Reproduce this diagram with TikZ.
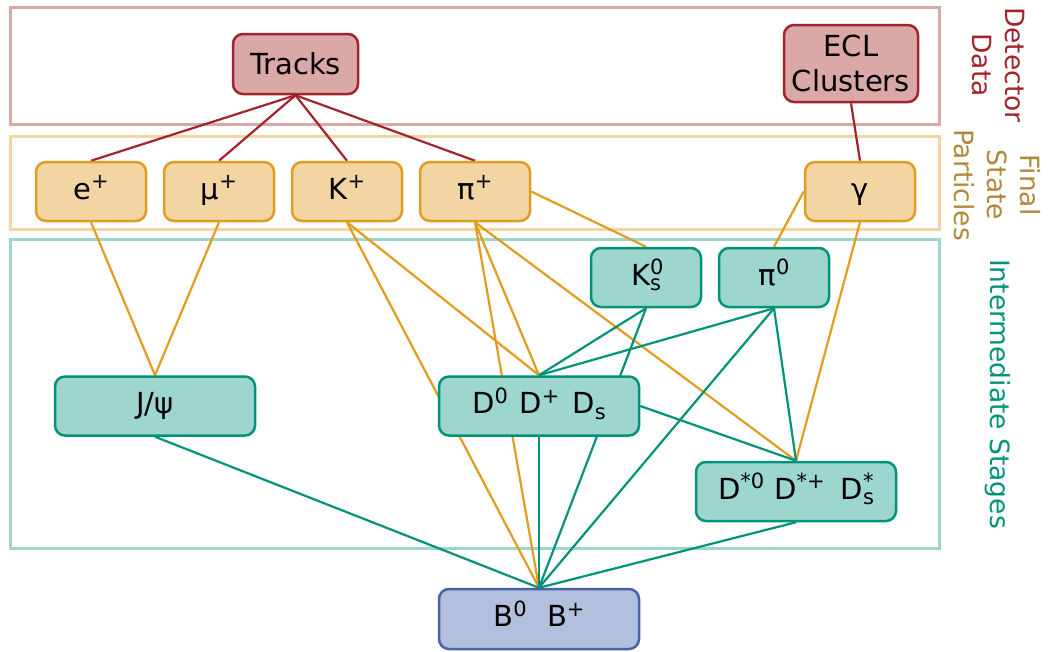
\documentclass[tikz,border=0pt]{standalone}
\usepackage{fontspec}
\setmainfont{DejaVu Sans}
\usetikzlibrary{positioning}
\pgfdeclarelayer{frames}
\pgfdeclarelayer{edges}
\pgfsetlayers{frames,edges,main}

\definecolor{detline}{HTML}{A3232B}
\definecolor{detfill}{HTML}{DBA8A8}
\definecolor{fspline}{HTML}{E29C1F}
\definecolor{fspfill}{HTML}{F2D5A3}
\definecolor{fsptext}{HTML}{B0893A}
\definecolor{intline}{HTML}{00937A}
\definecolor{intfill}{HTML}{9DD6CD}
\definecolor{bline}{HTML}{4A62A8}
\definecolor{bfill}{HTML}{B3C0DD}

\newcommand{\up}[1]{\raisebox{0.36em}{\fontsize{21}{21}\selectfont #1}}
\newcommand{\dn}[1]{\raisebox{-0.2em}{\fontsize{21}{21}\selectfont #1}}
\newcommand{\updn}[2]{\makebox[0pt][l]{\up{#1}}\dn{#2}}

\tikzset{
  part/.style={rounded corners=10pt, line width=2.5pt, inner sep=0pt,
    align=center, font=\fontsize{29}{35}\selectfont},
  det/.style={part, draw=detline, fill=detfill},
  fsp/.style={part, draw=fspline, fill=fspfill, minimum width=110pt,
    minimum height=59pt, text height=21pt, text depth=6pt},
  inter/.style={part, draw=intline, fill=intfill, minimum height=59pt,
    text height=21pt, text depth=6pt},
  bmes/.style={part, draw=bline, fill=bfill, minimum width=200pt,
    minimum height=60pt, text height=21pt, text depth=6pt},
  frame/.style={line width=3pt},
  link/.style={line width=2.2pt},
  side/.style={rotate=-90, align=center, font=\fontsize{26.5}{33}\selectfont},
}

\begin{document}
\begin{tikzpicture}[x=1pt,y=-1pt]
\useasboundingbox (0,0) rectangle (1048,651);

% detector data
\node[det, minimum width=125pt, minimum height=60pt] (trk) at (295.5,64) {Tracks};
\node[det, minimum width=134pt, minimum height=77pt] (ecl) at (851,63.5) {ECL\\Clusters};

% final state particles
\node[fsp] (ep)  at (91,191.5)  {e\up{+}};
\node[fsp] (mup) at (219,191.5) {μ\up{+}};
\node[fsp] (kp)  at (347,191.5) {K\up{+}};
\node[fsp] (pip) at (475,191.5) {π\up{+}};
\node[fsp] (gam) at (860,191.5) {γ};

% intermediate stages
\node[inter, minimum width=110pt] (ks)     at (646,277.5) {K\updn{0}{s}};
\node[inter, minimum width=110pt] (pizero) at (774,277.5) {π\up{0}};
\node[inter, minimum width=200pt] (jpsi)   at (155,406)   {J/ψ};
\node[inter, minimum width=200pt] (dmes)   at (539,406)
  {D\up{0}\hspace{0.4em}D\up{+}\hspace{0.45em}D\dn{s}};
\node[inter, minimum width=200pt] (dst)    at (796,491.5)
  {D\up{*0}\hspace{0.35em}D\up{*+}\hspace{0.55em}D\updn{*}{s}};

% final B meson
\node[bmes] (b) at (539,619) {B\up{0}\hspace{0.7em}B\up{+}};

% side labels
\node[side, text=detline] (lbldet) at (998,65)  {Detector\\Data};
\node[side, text=fsptext] (lblfsp) at (997,185) {Final\\State\\Particles};
\node[side, text=intline] (lblint) at (998,394) {Intermediate Stages};

\begin{pgfonlayer}{frames}
\draw[frame, draw=detfill] (10,7) rectangle (939,124);
\draw[frame, draw=fspfill] (10,136) rectangle (939,229);
\draw[frame, draw=intfill] (10,239) rectangle (939,548);
\end{pgfonlayer}

\begin{pgfonlayer}{edges}
\draw[link, detline] (trk.south) -- (ep.north);
\draw[link, detline] (trk.south) -- (mup.north);
\draw[link, detline] (trk.south) -- (kp.north);
\draw[link, detline] (trk.south) -- (pip.north);
\draw[link, detline] (ecl.south) -- (gam.north);

\draw[link, fspline] (ep.south) -- (jpsi.north);
\draw[link, fspline] (mup.south) -- (jpsi.north);
\draw[link, fspline] (kp.south) -- (dmes.north);
\draw[link, fspline] (kp.south) -- (b.north);
\draw[link, fspline] (pip.south) -- (dmes.north);
\draw[link, fspline] (pip.south) -- (b.north);
\draw[link, fspline] (pip.south) -- (dst.north);
\draw[link, fspline] (pip.east) -- (ks.north);
\draw[link, fspline] (gam.west) -- (pizero.north);
\draw[link, fspline] (gam.south) -- (dst.north);

\draw[link, intline] (ks.south) -- (dmes.north);
\draw[link, intline] (ks.south) -- (b.north);
\draw[link, intline] (pizero.south) -- (dmes.north);
\draw[link, intline] (pizero.south) -- (dst.north);
\draw[link, intline] (pizero.south) -- (b.north);
\draw[link, intline] (dmes.east) -- (dst.north);
\draw[link, intline] (dmes.south) -- (b.north);
\draw[link, intline] (jpsi.south) -- (b.north);
\draw[link, intline] (dst.south) -- (b.north);
\end{pgfonlayer}
\end{tikzpicture}
\end{document}
